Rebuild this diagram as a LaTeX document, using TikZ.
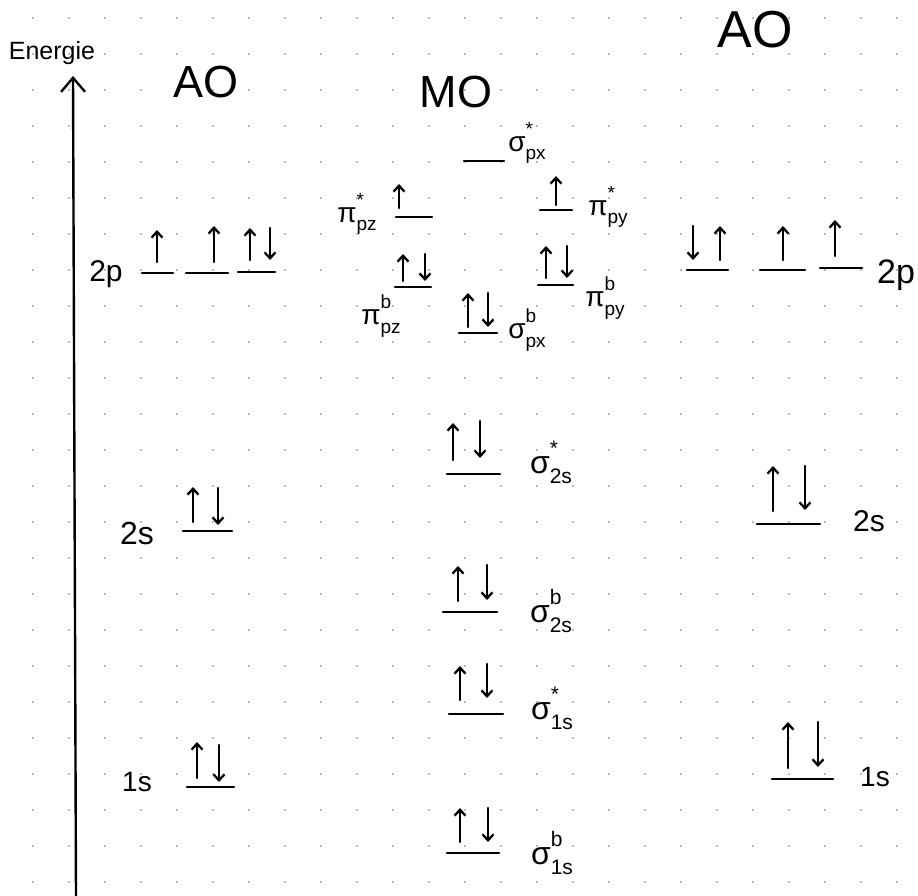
\documentclass[tikz,border=0pt]{standalone}
\usepackage{fontspec}
\setmainfont{Liberation Sans}
\usetikzlibrary{arrows.meta}
\newcommand\fsz[1]{\fontsize{#1}{#1}\selectfont}
% \orb{base size}{script size}{glyph}{sup}{sub}
\newcommand\orb[5]{\fsz{#1}#3\rlap{\raisebox{0.58em}{\fsz{#2}#4}}\raisebox{-0.3em}{\fsz{#2}#5}}
\begin{document}
\begin{tikzpicture}[x=1pt,y=-1pt,
  lvl/.style={line width=2.6pt,line cap=round},
  eup/.style={line width=2.3pt,line cap=round,-{Straight Barb[length=6pt,width=11pt]}},
  axisline/.style={line width=2.4pt,-{Straight Barb[length=14pt,width=24pt]}},
  lab/.style={inner sep=0pt,text=black},
  dotc/.style={fill=black!55}
]
\fill[white] (0,0) rectangle (918,896);
\useasboundingbox (0,0) rectangle (918,896);
% dot grid
\foreach \i in {0,...,24}{
  \foreach \j in {0,...,24}{
    \fill[dotc] ({33+36*\i},{18+36*\j}) circle (0.9);
  }
}
% energy axis
\coordinate (ebot) at (76,896);
\coordinate (etop) at (73,76);
\draw[axisline] (ebot) -- (etop);
\node[lab,font=\fsz{25}] (energie) at (52,53) {Energie};
% headings
\node[lab,font=\fsz{45}] (aoL) at (206,82) {AO};
\node[lab,font=\fsz{45}] (mo) at (456,92) {MO};
\node[lab,font=\fsz{52}] (aoR) at (755,30) {AO};

% ---------- left AO ----------
\node[lab,font=\fsz{30}] (l2p) at (106,274) {2p};
\draw[lvl] (142,273) -- (173,273);
\draw[lvl] (186,273) -- (228,273);
\draw[lvl] (238,272) -- (275,272);
\draw[eup] (157,262) -- (157,230);
\draw[eup] (214,262) -- (214,226);
\draw[eup] (250,260) -- (250,228);
\draw[eup] (270,228) -- (270,260);

\node[lab,font=\fsz{32}] (l2s) at (137,533) {2s};
\draw[lvl] (183,531) -- (232,531);
\draw[eup] (193,522) -- (193,487);
\draw[eup] (218,488) -- (218,525);

\node[lab,font=\fsz{28}] (l1s) at (137,782) {1s};
\draw[lvl] (187,787) -- (234,787);
\draw[eup] (197,778) -- (197,742);
\draw[eup] (219,745) -- (219,782);

% ---------- MO ----------
\draw[lvl] (447,853) -- (499,853);
\draw[eup] (460,842) -- (460,808);
\draw[eup] (488,808) -- (488,842);
\node[lab] (s1sb) at (552,853) {\orb{32}{21}{σ}{b}{1s}};

\draw[lvl] (449,714) -- (503,714);
\draw[eup] (460,700) -- (460,666);
\draw[eup] (487,664) -- (487,698);
\node[lab] (s1ss) at (552,708) {\orb{32}{21}{σ}{*}{1s}};

\draw[lvl] (443,612) -- (497,612);
\draw[eup] (458,601) -- (458,566);
\draw[eup] (487,565) -- (487,600);
\node[lab] (s2sb) at (551,611) {\orb{32}{21}{σ}{b}{2s}};

\draw[lvl] (447,474) -- (500,474);
\draw[eup] (453,460) -- (453,423);
\draw[eup] (480,421) -- (480,458);
\node[lab] (s2ss) at (551,462) {\orb{32}{21}{σ}{*}{2s}};

\draw[lvl] (459,333) -- (497,333);
\draw[eup] (468,327) -- (468,293);
\draw[eup] (488,293) -- (488,327);
\node[lab] (spxb) at (527,330) {\orb{28}{19}{σ}{b}{px}};

\draw[lvl] (395,287) -- (431,287);
\draw[eup] (403,281) -- (403,254);
\draw[eup] (425,254) -- (425,281);
\node[lab] (ppzb) at (381,316) {\orb{28}{19}{π}{b}{pz}};

\draw[lvl] (538,285) -- (573,285);
\draw[eup] (546,278) -- (546,246);
\draw[eup] (567,246) -- (567,278);
\node[lab] (ppyb) at (605,298) {\orb{28}{19}{π}{b}{py}};

\draw[lvl] (396,217) -- (432,217);
\draw[eup] (399,208) -- (399,184);
\node[lab] (ppzs) at (357,214) {\orb{28}{19}{π}{*}{pz}};

\draw[lvl] (540,210) -- (572,210);
\draw[eup] (556,205) -- (556,176);
\node[lab] (ppys) at (608,207) {\orb{28}{19}{π}{*}{py}};

\draw[lvl] (464,161) -- (504,161);
\node[lab] (spxs) at (527,143) {\orb{28}{19}{σ}{*}{px}};

% ---------- right AO ----------
\draw[lvl] (687,270) -- (728,270);
\draw[lvl] (760,270) -- (805,270);
\draw[lvl] (820,268) -- (862,268);
\draw[eup] (693,226) -- (693,260);
\draw[eup] (720,260) -- (720,226);
\draw[eup] (783,260) -- (783,226);
\draw[eup] (835,256) -- (835,220);
\node[lab,font=\fsz{34}] (r2p) at (896,275) {2p};

\draw[lvl] (757,524) -- (820,524);
\draw[eup] (773,511) -- (773,466);
\draw[eup] (805,466) -- (805,510);
\node[lab,font=\fsz{30}] (r2s) at (869,521) {2s};

\draw[lvl] (772,779) -- (833,779);
\draw[eup] (788,768) -- (788,722);
\draw[eup] (818,722) -- (818,767);
\node[lab,font=\fsz{28}] (r1s) at (875,777) {1s};
\end{tikzpicture}
\end{document}
